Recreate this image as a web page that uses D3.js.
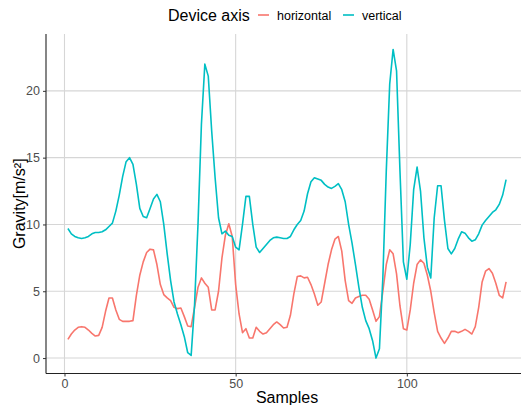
<!DOCTYPE html>
<html>
<head>
<meta charset="utf-8">
<script src="https://cdn.jsdelivr.net/npm/d3@7"></script>
<style>
  body { margin: 0; background: #fff; }
  svg { display: block; font-family: "Liberation Sans", Arial, sans-serif; }
</style>
</head>
<body>
<div class="chart"></div>
<script>
const width = 521;
const height = 405;

// samples 1..129
const seriesNames = ['horizontal', 'vertical'];
const seriesColors = ['#F8766D', '#00BFC4'];
const xTicks = [0, 50, 100];
const yTicks = [0, 5, 10, 15, 20];

const horizontal = [
  1.4, 1.8, 2.1, 2.3, 2.35, 2.3, 2.1, 1.85, 1.65, 1.7,
  2.3, 3.5, 4.5, 4.5, 3.6, 2.9, 2.75, 2.75, 2.75, 2.8,
  4.7, 6.2, 7.2, 7.9, 8.15, 8.1, 7.0, 5.5, 4.75, 4.5,
  4.3, 3.8, 3.7, 3.75, 3.1, 2.4, 2.35, 3.8, 5.3, 6.0,
  5.6, 5.3, 3.6, 3.6, 5.0, 7.5, 9.2, 10.05, 9.1, 5.5,
  3.3, 1.9, 2.2, 1.5, 1.5, 2.3, 2.0, 1.8, 1.9, 2.2,
  2.5, 2.7, 2.5, 2.25, 2.3, 3.2, 4.8, 6.1, 6.15, 6.0,
  6.05, 5.5, 4.8, 3.95, 4.2, 5.6, 7.0, 8.1, 8.9, 9.1,
  8.0, 5.8, 4.3, 4.1, 4.5, 4.6, 4.7, 4.7, 4.4, 3.6,
  2.75, 3.1, 5.0, 7.0, 8.1, 7.8, 6.3, 3.9, 2.2, 2.1,
  3.6, 5.6, 7.0, 7.35, 7.1, 6.2, 5.0, 3.4, 2.0, 1.5,
  1.1, 1.5, 2.0, 2.0, 1.9, 2.0, 2.15, 2.0, 1.8, 2.35,
  3.8, 5.7, 6.5, 6.7, 6.35, 5.6, 4.7, 4.5, 5.7
];

const vertical = [
  9.7, 9.3, 9.1, 9.0, 8.95, 9.0, 9.1, 9.3, 9.4, 9.4,
  9.45, 9.6, 9.85, 10.1, 11.0, 12.2, 13.6, 14.7, 15.0, 14.5,
  13.0, 11.2, 10.6, 10.5, 11.2, 11.9, 12.25, 11.7, 10.0, 7.8,
  5.8, 4.2, 3.3, 2.5, 1.6, 0.4, 0.2, 4.0, 10.0, 17.5,
  22.0, 21.1, 17.0, 13.5, 10.5, 9.3, 9.5, 9.2, 9.1, 8.3,
  8.1, 10.0, 12.1, 12.1, 10.0, 8.3, 7.9, 8.2, 8.5, 8.8,
  9.0, 9.05, 9.0, 8.95, 8.95, 9.1, 9.6, 10.0, 10.3, 11.0,
  12.3, 13.2, 13.5, 13.4, 13.3, 13.0, 12.8, 12.7, 12.85, 13.05,
  12.6, 11.7, 10.0, 8.6, 7.0, 5.3, 3.8, 2.8, 2.2, 1.3,
  0.0, 0.7, 6.0, 14.0, 20.5, 23.1, 21.5, 14.0, 7.2, 5.9,
  8.5, 12.6, 14.3, 12.5, 9.0, 6.8, 6.0, 10.5, 12.9, 12.9,
  10.3, 8.2, 7.8, 8.2, 8.9, 9.45, 9.35, 9.0, 8.75, 8.85,
  9.3, 9.95, 10.3, 10.6, 10.9, 11.1, 11.5, 12.2, 13.35
];

let chart = () => {
  const series = [horizontal, vertical].map((values, k) => {
    return {
      name: seriesNames[k],
      color: seriesColors[k],
      points: values.map((v, i) => { return { sample: i + 1, value: v }; })
    };
  });

  const panel = { left: 46, top: 34, right: 528, bottom: 373.5 };

  // ggplot style 5% expansion
  const xExt = [1, horizontal.length];
  const xPad = (xExt[1] - xExt[0]) * 0.05;
  const allValues = horizontal.concat(vertical);
  const yExt = d3.extent(allValues);
  const yPad = (yExt[1] - yExt[0]) * 0.05;

  const scaleX = d3.scaleLinear()
    .domain([xExt[0] - xPad, xExt[1] + xPad])
    .range([panel.left, panel.right]);
  const scaleY = d3.scaleLinear()
    .domain([yExt[0] - yPad, yExt[1] + yPad])
    .range([panel.bottom, panel.top]);

  const svg = d3.select('.chart').append('svg')
    .attr('xmlns', 'http://www.w3.org/2000/svg')
    .attr('width', width)
    .attr('height', height);

  // grid
  const grid = svg.append('g');
  grid.selectAll('line.gy').data(yTicks).enter().append('line')
    .attr('x1', panel.left).attr('x2', panel.right)
    .attr('y1', (d) => { return scaleY(d); }).attr('y2', (d) => { return scaleY(d); })
    .attr('stroke', '#d6d6d6').attr('stroke-width', 1.1);
  grid.selectAll('line.gx').data(xTicks).enter().append('line')
    .attr('x1', (d) => { return scaleX(d); }).attr('x2', (d) => { return scaleX(d); })
    .attr('y1', panel.top).attr('y2', panel.bottom)
    .attr('stroke', '#d6d6d6').attr('stroke-width', 1.1);

  // lines
  const generatorLine = d3.line()
    .x((d) => { return scaleX(d.sample); })
    .y((d) => { return scaleY(d.value); });

  svg.append('g').selectAll('path').data(series).enter().append('path')
    .attr('d', (d) => { return generatorLine(d.points); })
    .attr('fill', 'none')
    .attr('stroke', (d) => { return d.color; })
    .attr('stroke-width', 1.6)
    .attr('stroke-linejoin', 'round');

  // axes
  const axisX = svg.append('g')
    .attr('transform', 'translate(0,' + panel.bottom + ')')
    .call(d3.axisBottom(scaleX).tickValues(xTicks).tickSize(3).tickPadding(3));
  const axisY = svg.append('g')
    .attr('transform', 'translate(' + panel.left + ',0)')
    .call(d3.axisLeft(scaleY).tickValues(yTicks).tickSize(3).tickPadding(3));

  [axisX, axisY].forEach((ax) => {
    ax.select('.domain').attr('stroke', '#222').attr('stroke-width', 1.1);
    ax.selectAll('.tick line').attr('stroke', '#333');
    ax.selectAll('.tick text')
      .attr('fill', '#4d4d4d')
      .style('font-size', '12.5px')
      .style('font-family', '"Liberation Sans", Arial, sans-serif');
  });
  axisX.select('.domain').attr('d', 'M' + panel.left + ',0H' + panel.right);
  axisY.select('.domain').attr('d', 'M0,' + panel.top + 'V' + panel.bottom);

  // titles
  svg.append('text')
    .attr('x', (panel.left + 528) / 2)
    .attr('y', 403)
    .attr('text-anchor', 'middle')
    .style('font-size', '16px')
    .text('Samples');
  svg.append('text')
    .attr('transform', 'translate(25,' + ((panel.top + panel.bottom) / 2) + ') rotate(-90)')
    .attr('text-anchor', 'middle')
    .style('font-size', '16px')
    .text('Gravity[m/s²]');

  // legend
  const legend = svg.append('g');
  legend.append('text')
    .attr('x', 168).attr('y', 21)
    .style('font-size', '16px')
    .text('Device axis');
  const keyX = [258, 343];
  series.forEach((s, k) => {
    legend.append('line')
      .attr('x1', keyX[k]).attr('x2', keyX[k] + 11)
      .attr('y1', 15).attr('y2', 15)
      .attr('stroke', s.color).attr('stroke-width', 1.6);
    legend.append('text')
      .attr('x', keyX[k] + 19).attr('y', 19.5)
      .style('font-size', '12.5px')
      .text(s.name);
  });
};

chart();
</script>
</body>
</html>
